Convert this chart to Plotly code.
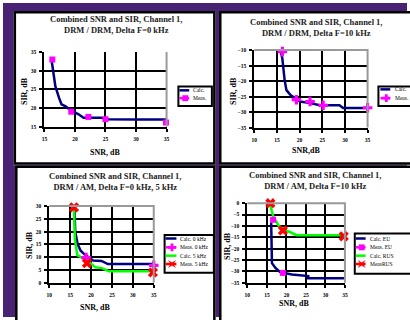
import plotly.graph_objects as go

W, H = 410, 320

# ---------------- data ----------------
# Panel 1: DRM / DRM, Delta F = 0 kHz
p1_calc_snr = [16.2, 16.5, 16.8, 17.4, 17.8, 18.4, 19.5, 20.6, 21.4, 24.4, 24.9, 30.0, 35.0]
p1_calc_sir = [32.6, 29.0, 25.8, 22.7, 21.0, 20.5, 19.2, 18.3, 17.4, 17.4, 17.0, 16.9, 16.9]
p1_meas_snr = [16.3, 19.4, 22.2, 25.0, 34.9]
p1_meas_sir = [33.0, 19.0, 17.6, 17.0, 16.1]

# Panel 2: DRM / DRM, Delta F = 10 kHz
p2_calc_snr = [15.9, 16.2, 16.7, 17.1, 18.0, 19.1, 20.1, 22.3, 24.5, 28.8, 29.6, 35.0]
p2_calc_sir = [-10.7, -12.8, -19.7, -22.9, -24.5, -25.5, -26.6, -27.1, -27.8, -27.8, -28.7, -28.7]
p2_meas_snr = [16.2, 19.3, 22.3, 25.2, 35.0]
p2_meas_sir = [-10.5, -26.0, -26.6, -27.8, -28.6]

# Panel 3: DRM / AM, Delta F = 0 kHz, 5 kHz
p3_calc0_snr = [16.0, 16.2, 16.8, 17.5, 18.5, 19.5, 20.5, 22.5, 24.0, 35.0]
p3_calc0_sir = [30.0, 20.0, 15.0, 12.5, 11.0, 9.8, 8.7, 8.5, 7.3, 7.3]
p3_meas0_snr = [18.8, 35.0]
p3_meas0_sir = [9.8, 6.8]
p3_calc5_snr = [15.9, 16.1, 16.7, 17.9, 19.4, 21.0, 22.6, 24.2, 34.8]
p3_calc5_sir = [31.0, 17.2, 10.8, 9.6, 8.3, 6.0, 5.7, 4.5, 4.5]
p3_meas5_snr = [15.9, 19.0, 34.8]
p3_meas5_sir = [29.5, 7.6, 4.0]

# Panel 4: DRM / AM, Delta F = 10 kHz
p4_calceu_snr = [16.1, 16.3, 17.2, 18.4, 21.4, 25.6, 25.6, 34.8]
p4_calceu_sir = [-8.4, -26.4, -28.5, -30.4, -31.4, -32.1, -33.1, -33.1]
p4_measeu_snr = [16.6, 19.1, 35.1]
p4_measeu_sir = [-7.3, -30.7, -33.3]
p4_calcrus_snr = [15.9, 16.7, 18.0, 19.3, 20.9, 22.6, 34.8]
p4_calcrus_sir = [-1.2, -6.2, -9.8, -11.7, -12.7, -14.1, -14.1]
p4_measrus_snr = [15.9, 19.1, 34.7]
p4_measrus_sir = [0.0, -12.0, -14.6]

titles = [
    "Combined SNR and SIR, Channel 1,<br>DRM / DRM, Delta F=0 kHz",
    "Combined SNR and SIR, Channel 1,<br>DRM / DRM, Delta F=10 kHz",
    "Combined SNR and SIR, Channel 1,<br>DRM / AM, Delta F=0 kHz, 5 kHz",
    "Combined SNR and SIR, Channel 1,<br>DRM / AM, Delta F=10 kHz",
]
xtitles = ["SNR, dB", "SNR,dB", "SNR, dB", "SNR, dB"]
ytitle = "SIR, dB"

xranges = [[15, 35], [10, 35], [10, 35], [10, 35]]
yranges = [[15, 35], [-35, -10], [0, 30], [-35, 0]]

# ---------------- styles ----------------
NAVY = "#000080"
PINK = "#FF00FF"
GREEN = "#00FF00"
RED = "#FF0000"
PURPLE = "#4a2273"
SERIF = "Liberation Serif"


def X(p):
    return p / W


def Y(p):
    return 1 - p / H


fig = go.Figure()


def line_trace(x, y, color, ax):
    fig.add_trace(go.Scatter(x=x, y=y, mode="lines", line=dict(color=color, width=2.5),
                             xaxis="x" + ax, yaxis="y" + ax, showlegend=False, hoverinfo="skip"))


def marker_trace(x, y, color, symbol, size, ax):
    fig.add_trace(go.Scatter(x=x, y=y, mode="markers",
                             marker=dict(color=color, symbol=symbol, size=size, line=dict(width=0)),
                             xaxis="x" + ax, yaxis="y" + ax, showlegend=False, hoverinfo="skip",
                             cliponaxis=False))


line_trace(p1_calc_snr, p1_calc_sir, NAVY, "")
marker_trace(p1_meas_snr, p1_meas_sir, PINK, "square", 6, "")

line_trace(p2_calc_snr, p2_calc_sir, NAVY, "2")
marker_trace(p2_meas_snr, p2_meas_sir, PINK, "cross", 8, "2")

line_trace(p3_calc0_snr, p3_calc0_sir, NAVY, "3")
line_trace(p3_calc5_snr, p3_calc5_sir, GREEN, "3")
marker_trace(p3_meas0_snr, p3_meas0_sir, PINK, "cross", 8, "3")
marker_trace(p3_meas5_snr, p3_meas5_sir, RED, "x", 9, "3")

line_trace(p4_calceu_snr, p4_calceu_sir, NAVY, "4")
line_trace(p4_calcrus_snr, p4_calcrus_sir, GREEN, "4")
marker_trace(p4_measeu_snr, p4_measeu_sir, PINK, "square", 6, "4")
marker_trace(p4_measrus_snr, p4_measrus_sir, RED, "x", 9, "4")

# plot-area pixel boxes (left, right, top, bottom)
boxes = [
    (42, 166, 50, 126),
    (255, 370, 48, 127),
    (47, 153, 207, 285),
    (248, 347, 204, 285),
]

tickfont = dict(family=SERIF, size=5.5, color="black", weight="bold")
layout_axes = {}
for i, (l, r, t, b) in enumerate(boxes):
    suf = "" if i == 0 else str(i + 1)
    common = dict(showline=True, linecolor="black", linewidth=2, ticks="outside", ticklen=3,
                  tickwidth=1.5, tickcolor="black", tickfont=tickfont,
                  showgrid=True, gridcolor="black", gridwidth=2,
                  zeroline=False, dtick=5, fixedrange=True)
    layout_axes["xaxis" + suf] = dict(common, domain=[X(l), X(r)], range=xranges[i],
                                      anchor="y" + suf, ticklabelstandoff=3)
    layout_axes["yaxis" + suf] = dict(common, domain=[Y(b), Y(t)], range=yranges[i],
                                      anchor="x" + suf, ticklabelstandoff=2)

shapes = []
# purple frame around the four white panels (paper is white)
for (x0, x1, y0, y1) in [(0, 410, 0, 8.3), (0, 10.8, 0, 320), (0, 12.3, 166, 320),
                         (215.8, 219.3, 0, 320), (10, 410, 164.75, 165.75)]:
    shapes.append(dict(type="rect", xref="paper", yref="paper", x0=X(x0), x1=X(x1), y0=Y(y1), y1=Y(y0),
                       fillcolor=PURPLE, line=dict(width=0), layer="below"))
# black panel borders
for (x0, x1, y0, y1) in [(12, 214.5, 9.5, 163.5), (220.5, 420, 9.5, 163.5),
                         (13.5, 214.5, 167, 330), (220.5, 420, 167, 330)]:
    shapes.append(dict(type="rect", xref="paper", yref="paper", x0=X(x0), x1=X(x1), y0=Y(y1), y1=Y(y0),
                       fillcolor="rgba(0,0,0,0)", line=dict(color="black", width=2.5), layer="below"))

# grey top/right plot-area borders
for i in range(4):
    suf = "" if i == 0 else str(i + 1)
    path = "M 1 1 L 1 0" if i == 0 else "M 0 1 L 1 1 L 1 0"
    shapes.append(dict(type="path", xref="x" + suf + " domain", yref="y" + suf + " domain",
                       path=path, line=dict(color="#999999", width=2), layer="above"))

annotations = []
# titles
title_pos = [(115, 22), (318, 24.5), (114, 181.5), (317, 181)]
for txt, (cx, cy) in zip(titles, title_pos):
    annotations.append(dict(text=txt, x=X(cx), y=Y(cy), xref="paper", yref="paper", showarrow=False,
                            xanchor="center", yanchor="middle", align="center",
                            font=dict(family=SERIF, size=8.5, color="#222222", weight="bold")))
# axis titles
xt_pos = [(104, 152), (308, 150), (93, 310), (295, 306)]
yt_pos = [(22, 90), (234, 90), (27, 247), (228, 248)]
for txt, (cx, cy) in zip(xtitles, xt_pos):
    annotations.append(dict(text=txt, x=X(cx), y=Y(cy), xref="paper", yref="paper", showarrow=False,
                            xanchor="center", yanchor="middle",
                            font=dict(family=SERIF, size=8, color="black", weight="bold")))
for (cx, cy) in yt_pos:
    annotations.append(dict(text=ytitle, x=X(cx), y=Y(cy), xref="paper", yref="paper", showarrow=False,
                            xanchor="center", yanchor="middle", textangle=-90,
                            font=dict(family=SERIF, size=8, color="black", weight="bold")))


# ---------------- legends (drawn as boxes with glyphs) ----------------
def poly(points):
    return "M " + " L ".join(f"{X(px):.5f} {Y(py):.5f}" for px, py in points) + " Z"


def glyph(symbol, cx, cy, color):
    if symbol == "square":
        shapes.append(dict(type="rect", xref="paper", yref="paper", x0=X(cx - 3), x1=X(cx + 3),
                           y0=Y(cy + 3), y1=Y(cy - 3), fillcolor=color, line=dict(width=0)))
    elif symbol == "cross":
        a, t = 4, 1.4
        pts = [(cx - t, cy - a), (cx + t, cy - a), (cx + t, cy - t), (cx + a, cy - t), (cx + a, cy + t),
               (cx + t, cy + t), (cx + t, cy + a), (cx - t, cy + a), (cx - t, cy + t), (cx - a, cy + t),
               (cx - a, cy - t), (cx - t, cy - t)]
        shapes.append(dict(type="path", xref="paper", yref="paper", path=poly(pts),
                           fillcolor=color, line=dict(width=0)))
    elif symbol == "x":
        a, t = 4, 1.5
        pts = [(cx - a, cy - a), (cx, cy - t), (cx + a, cy - a), (cx + t, cy), (cx + a, cy + a),
               (cx, cy + t), (cx - a, cy + a), (cx - t, cy)]
        shapes.append(dict(type="path", xref="paper", yref="paper", path=poly(pts),
                           fillcolor=color, line=dict(width=0)))


def legend(box, entries, lx0, lx1, tx, ys):
    x0, x1, y0, y1 = box
    shapes.append(dict(type="rect", xref="paper", yref="paper", x0=X(x0), x1=X(x1), y0=Y(y1), y1=Y(y0),
                       fillcolor="white", line=dict(color="black", width=2)))
    for (label, color, symbol), yy in zip(entries, ys):
        shapes.append(dict(type="line", xref="paper", yref="paper", x0=X(lx0), x1=X(lx1), y0=Y(yy), y1=Y(yy),
                           line=dict(color=color, width=2.5)))
        if symbol:
            glyph(symbol, (lx0 + lx1) / 2 + 1, yy, color)
        annotations.append(dict(text=label, x=X(tx), y=Y(yy), xref="paper", yref="paper", showarrow=False,
                                xanchor="left", yanchor="middle",
                                font=dict(family=SERIF, size=5.5, color="black")))


legend((178, 212, 85, 105), [("Calc.", NAVY, None), ("Meas.", PINK, "square")],
       179, 189, 191, [89, 97])
legend((381, 416, 85, 105), [("Calc.", NAVY, None), ("Meas.", PINK, "cross")],
       383, 393, 396, [88, 97])
legend((164, 214, 236.5, 275), [("Calc. 0 kHz", NAVY, None), ("Meas. 0 kHz", PINK, "cross"),
                                ("Calc. 5 kHz", GREEN, None), ("Meas. 5 kHz", RED, "x")],
       165, 176, 178, [240, 249, 257.5, 266])
legend((357, 416, 235, 276), [("Calc. EU", NAVY, None), ("Meas. EU", PINK, "square"),
                              ("Calc. RUS", GREEN, None), ("MeasRUS", RED, "x")],
       358, 368, 370, [240, 249, 257.5, 266])

fig.update_layout(
    width=W, height=H, margin=dict(l=0, r=0, t=0, b=0),
    paper_bgcolor="white", plot_bgcolor="white", showlegend=False,
    shapes=shapes, annotations=annotations, **layout_axes,
)

fig.write_html("out.html", config={"displayModeBar": False})
